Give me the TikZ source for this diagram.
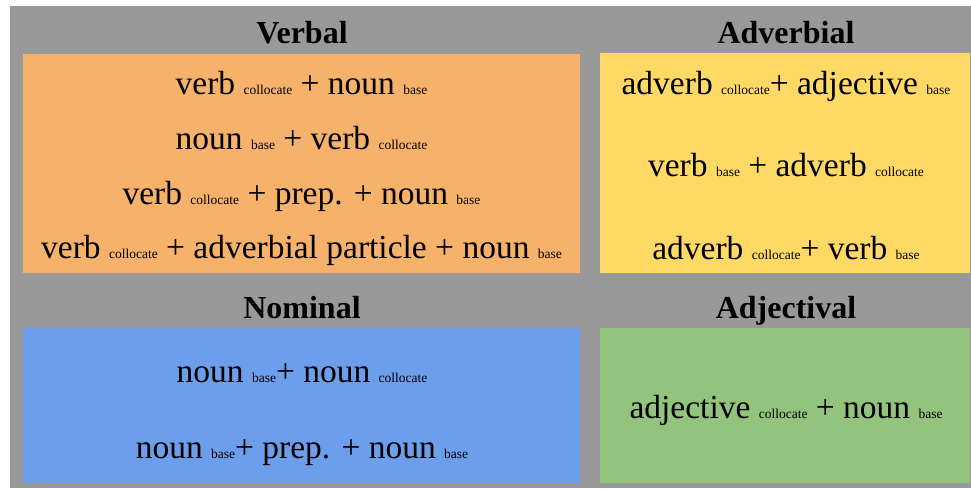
\documentclass[tikz,border=0pt]{standalone}
\usepackage{fontspec}
\setmainfont{Liberation Serif}
\definecolor{bggray}{HTML}{999999}
\definecolor{verbalc}{HTML}{F6B26B}
\definecolor{adverbc}{HTML}{FFD966}
\definecolor{nominalc}{HTML}{6D9EEB}
\definecolor{adjectc}{HTML}{93C47D}
\newcommand{\lo}[1]{{\fontsize{13.5}{13.5}\selectfont #1}}
\tikzset{
  panel/.style={draw=none, inner sep=0pt, outer sep=0pt},
  heading/.style={anchor=base, inner sep=0pt, font=\fontsize{32}{32}\selectfont\bfseries},
  entry/.style={anchor=base, inner sep=0pt, font=\fontsize{33.5}{33.5}\selectfont},
}
\begin{document}
\begin{tikzpicture}[x=1pt,y=-1pt]
\useasboundingbox (0,0) rectangle (971,488);
\fill[white] (0,0) rectangle (971,488);
\fill[bggray] (9.5,6) rectangle (971,488);
% panels
\node[panel, fill=verbalc, minimum width=557pt, minimum height=219pt] (verbal) at (301.5,163.5) {};
\node[panel, fill=adverbc, minimum width=370pt, minimum height=220pt] (adverbial) at (785,163) {};
\node[panel, fill=nominalc, minimum width=557pt, minimum height=155pt] (nominal) at (301.5,405.5) {};
\node[panel, fill=adjectc, minimum width=370pt, minimum height=155pt] (adjectival) at (785,405.5) {};
% headings
\node[heading] (hverbal) at (302,43) {Verbal};
\node[heading] (hadverbial) at (786,43) {Adverbial};
\node[heading] (hnominal) at (302,318) {Nominal};
\node[heading] (hadjectival) at (786,318) {Adjectival};
% verbal entries
\node[entry] (v1) at (301.5,94) {verb \lo{collocate} + noun \lo{base}};
\node[entry] (v2) at (301.5,149) {noun \lo{base} + verb \lo{collocate}};
\node[entry] (v3) at (301.5,204) {verb \lo{collocate} + prep. + noun \lo{base}};
\node[entry] (v4) at (301.5,258) {verb \lo{collocate} + adverbial particle + noun \lo{base}};
% adverbial entries
\node[entry] (a1) at (786,94) {adverb \lo{collocate}+ adjective \lo{base}};
\node[entry] (a2) at (786,176) {verb \lo{base} + adverb \lo{collocate}};
\node[entry] (a3) at (786,259) {adverb \lo{collocate}+ verb \lo{base}};
% nominal entries
\node[entry] (n1) at (302,382) {noun \lo{base}+ noun \lo{collocate}};
\node[entry] (n2) at (302,458) {noun \lo{base}+ prep. + noun \lo{base}};
% adjectival entry
\node[entry] (j1) at (786,418) {adjective \lo{collocate} + noun \lo{base}};
\end{tikzpicture}
\end{document}
